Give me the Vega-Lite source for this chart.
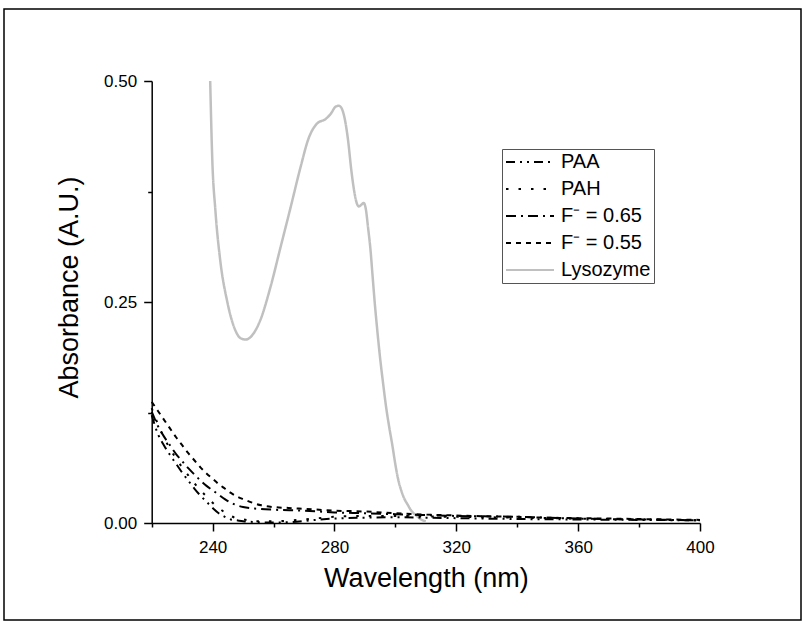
{
  "$schema": "https://vega.github.io/schema/vega-lite/v6.json",
  "width": 797,
  "height": 611,
  "autosize": {"type": "none"},
  "padding": {"left": 4, "top": 9, "right": 1, "bottom": 1},
  "background": "white",
  "config": {
    "view": {"stroke": "black", "strokeWidth": 1.5},
    "font": "Liberation Sans"
  },
  "datasets": {
    "lys": [
      {"wavelength": 239.2, "absorbance": 0.5},
      {"wavelength": 239.9, "absorbance": 0.41},
      {"wavelength": 240.9, "absorbance": 0.354},
      {"wavelength": 242.5, "absorbance": 0.297},
      {"wavelength": 244.7, "absorbance": 0.252},
      {"wavelength": 247.0, "absorbance": 0.222},
      {"wavelength": 249.2, "absorbance": 0.209},
      {"wavelength": 250.8, "absorbance": 0.2075},
      {"wavelength": 252.9, "absorbance": 0.212},
      {"wavelength": 255.6, "absorbance": 0.229},
      {"wavelength": 259.0, "absorbance": 0.267},
      {"wavelength": 262.3, "absorbance": 0.312},
      {"wavelength": 265.6, "absorbance": 0.357},
      {"wavelength": 268.9, "absorbance": 0.403},
      {"wavelength": 271.5, "absorbance": 0.435},
      {"wavelength": 274.3, "absorbance": 0.452},
      {"wavelength": 277.1, "absorbance": 0.457},
      {"wavelength": 278.8, "absorbance": 0.463},
      {"wavelength": 280.4, "absorbance": 0.471},
      {"wavelength": 281.5, "absorbance": 0.472},
      {"wavelength": 282.5, "absorbance": 0.468},
      {"wavelength": 283.5, "absorbance": 0.455},
      {"wavelength": 284.5, "absorbance": 0.432},
      {"wavelength": 285.5, "absorbance": 0.4},
      {"wavelength": 286.5, "absorbance": 0.375},
      {"wavelength": 287.3, "absorbance": 0.362},
      {"wavelength": 288.0, "absorbance": 0.358},
      {"wavelength": 288.8, "absorbance": 0.36},
      {"wavelength": 289.6, "absorbance": 0.362},
      {"wavelength": 290.3, "absorbance": 0.355},
      {"wavelength": 291.0, "absorbance": 0.335},
      {"wavelength": 291.8, "absorbance": 0.31},
      {"wavelength": 292.5, "absorbance": 0.28},
      {"wavelength": 293.2, "absorbance": 0.25},
      {"wavelength": 294.0, "absorbance": 0.22},
      {"wavelength": 295.0, "absorbance": 0.186},
      {"wavelength": 296.0, "absorbance": 0.157},
      {"wavelength": 297.0, "absorbance": 0.13},
      {"wavelength": 298.0, "absorbance": 0.108},
      {"wavelength": 299.0, "absorbance": 0.088},
      {"wavelength": 300.0, "absorbance": 0.066},
      {"wavelength": 301.0, "absorbance": 0.048},
      {"wavelength": 302.0, "absorbance": 0.036},
      {"wavelength": 303.0, "absorbance": 0.027},
      {"wavelength": 304.0, "absorbance": 0.021},
      {"wavelength": 305.0, "absorbance": 0.015},
      {"wavelength": 306.0, "absorbance": 0.011},
      {"wavelength": 307.0, "absorbance": 0.008},
      {"wavelength": 308.0, "absorbance": 0.005},
      {"wavelength": 309.0, "absorbance": 0.003},
      {"wavelength": 310.0, "absorbance": 0.002}
    ]
  },
  "data": {
    "values": [
      {"series": "F⁻ = 0.55", "wavelength": 220, "absorbance": 0.137},
      {"series": "F⁻ = 0.55", "wavelength": 222, "absorbance": 0.127},
      {"series": "F⁻ = 0.55", "wavelength": 224, "absorbance": 0.117},
      {"series": "F⁻ = 0.55", "wavelength": 226, "absorbance": 0.107},
      {"series": "F⁻ = 0.55", "wavelength": 228, "absorbance": 0.097},
      {"series": "F⁻ = 0.55", "wavelength": 230, "absorbance": 0.088},
      {"series": "F⁻ = 0.55", "wavelength": 232, "absorbance": 0.079},
      {"series": "F⁻ = 0.55", "wavelength": 234, "absorbance": 0.071},
      {"series": "F⁻ = 0.55", "wavelength": 236, "absorbance": 0.063},
      {"series": "F⁻ = 0.55", "wavelength": 238, "absorbance": 0.056},
      {"series": "F⁻ = 0.55", "wavelength": 240, "absorbance": 0.05},
      {"series": "F⁻ = 0.55", "wavelength": 242, "absorbance": 0.044},
      {"series": "F⁻ = 0.55", "wavelength": 244, "absorbance": 0.039},
      {"series": "F⁻ = 0.55", "wavelength": 246, "absorbance": 0.034},
      {"series": "F⁻ = 0.55", "wavelength": 248, "absorbance": 0.03},
      {"series": "F⁻ = 0.55", "wavelength": 250, "absorbance": 0.027},
      {"series": "F⁻ = 0.55", "wavelength": 253, "absorbance": 0.023},
      {"series": "F⁻ = 0.55", "wavelength": 256, "absorbance": 0.02},
      {"series": "F⁻ = 0.55", "wavelength": 260, "absorbance": 0.018},
      {"series": "F⁻ = 0.55", "wavelength": 265, "absorbance": 0.017},
      {"series": "F⁻ = 0.55", "wavelength": 270, "absorbance": 0.016},
      {"series": "F⁻ = 0.55", "wavelength": 275, "absorbance": 0.015},
      {"series": "F⁻ = 0.55", "wavelength": 280, "absorbance": 0.014},
      {"series": "F⁻ = 0.55", "wavelength": 290, "absorbance": 0.013},
      {"series": "F⁻ = 0.55", "wavelength": 300, "absorbance": 0.011},
      {"series": "F⁻ = 0.55", "wavelength": 310, "absorbance": 0.0095},
      {"series": "F⁻ = 0.55", "wavelength": 320, "absorbance": 0.0085},
      {"series": "F⁻ = 0.55", "wavelength": 330, "absorbance": 0.0075},
      {"series": "F⁻ = 0.55", "wavelength": 340, "absorbance": 0.007},
      {"series": "F⁻ = 0.55", "wavelength": 350, "absorbance": 0.006},
      {"series": "F⁻ = 0.55", "wavelength": 360, "absorbance": 0.0055},
      {"series": "F⁻ = 0.55", "wavelength": 370, "absorbance": 0.005},
      {"series": "F⁻ = 0.55", "wavelength": 380, "absorbance": 0.0045},
      {"series": "F⁻ = 0.55", "wavelength": 390, "absorbance": 0.004},
      {"series": "F⁻ = 0.55", "wavelength": 400, "absorbance": 0.0035},

      {"series": "F⁻ = 0.65", "wavelength": 220, "absorbance": 0.126},
      {"series": "F⁻ = 0.65", "wavelength": 222, "absorbance": 0.11},
      {"series": "F⁻ = 0.65", "wavelength": 224, "absorbance": 0.098},
      {"series": "F⁻ = 0.65", "wavelength": 226, "absorbance": 0.088},
      {"series": "F⁻ = 0.65", "wavelength": 228, "absorbance": 0.078},
      {"series": "F⁻ = 0.65", "wavelength": 230, "absorbance": 0.07},
      {"series": "F⁻ = 0.65", "wavelength": 232, "absorbance": 0.062},
      {"series": "F⁻ = 0.65", "wavelength": 234, "absorbance": 0.055},
      {"series": "F⁻ = 0.65", "wavelength": 236, "absorbance": 0.048},
      {"series": "F⁻ = 0.65", "wavelength": 238, "absorbance": 0.042},
      {"series": "F⁻ = 0.65", "wavelength": 240, "absorbance": 0.037},
      {"series": "F⁻ = 0.65", "wavelength": 242, "absorbance": 0.032},
      {"series": "F⁻ = 0.65", "wavelength": 244, "absorbance": 0.027},
      {"series": "F⁻ = 0.65", "wavelength": 246, "absorbance": 0.023},
      {"series": "F⁻ = 0.65", "wavelength": 248, "absorbance": 0.02},
      {"series": "F⁻ = 0.65", "wavelength": 250, "absorbance": 0.018},
      {"series": "F⁻ = 0.65", "wavelength": 255, "absorbance": 0.016},
      {"series": "F⁻ = 0.65", "wavelength": 260, "absorbance": 0.015},
      {"series": "F⁻ = 0.65", "wavelength": 270, "absorbance": 0.014},
      {"series": "F⁻ = 0.65", "wavelength": 280, "absorbance": 0.012},
      {"series": "F⁻ = 0.65", "wavelength": 290, "absorbance": 0.011},
      {"series": "F⁻ = 0.65", "wavelength": 300, "absorbance": 0.01},
      {"series": "F⁻ = 0.65", "wavelength": 320, "absorbance": 0.008},
      {"series": "F⁻ = 0.65", "wavelength": 340, "absorbance": 0.007},
      {"series": "F⁻ = 0.65", "wavelength": 360, "absorbance": 0.005},
      {"series": "F⁻ = 0.65", "wavelength": 380, "absorbance": 0.004},
      {"series": "F⁻ = 0.65", "wavelength": 400, "absorbance": 0.003},

      {"series": "PAH", "wavelength": 220, "absorbance": 0.13},
      {"series": "PAH", "wavelength": 222, "absorbance": 0.112},
      {"series": "PAH", "wavelength": 224, "absorbance": 0.097},
      {"series": "PAH", "wavelength": 226, "absorbance": 0.084},
      {"series": "PAH", "wavelength": 228, "absorbance": 0.073},
      {"series": "PAH", "wavelength": 230, "absorbance": 0.063},
      {"series": "PAH", "wavelength": 232, "absorbance": 0.054},
      {"series": "PAH", "wavelength": 234, "absorbance": 0.045},
      {"series": "PAH", "wavelength": 236, "absorbance": 0.037},
      {"series": "PAH", "wavelength": 238, "absorbance": 0.03},
      {"series": "PAH", "wavelength": 240, "absorbance": 0.023},
      {"series": "PAH", "wavelength": 242, "absorbance": 0.017},
      {"series": "PAH", "wavelength": 244, "absorbance": 0.012},
      {"series": "PAH", "wavelength": 246, "absorbance": 0.008},
      {"series": "PAH", "wavelength": 248, "absorbance": 0.005},
      {"series": "PAH", "wavelength": 250, "absorbance": 0.004},
      {"series": "PAH", "wavelength": 255, "absorbance": 0.002},
      {"series": "PAH", "wavelength": 260, "absorbance": 0.002},
      {"series": "PAH", "wavelength": 270, "absorbance": 0.004},
      {"series": "PAH", "wavelength": 280, "absorbance": 0.007},
      {"series": "PAH", "wavelength": 290, "absorbance": 0.008},
      {"series": "PAH", "wavelength": 300, "absorbance": 0.008},
      {"series": "PAH", "wavelength": 310, "absorbance": 0.0075},
      {"series": "PAH", "wavelength": 320, "absorbance": 0.007},
      {"series": "PAH", "wavelength": 340, "absorbance": 0.006},
      {"series": "PAH", "wavelength": 360, "absorbance": 0.005},
      {"series": "PAH", "wavelength": 380, "absorbance": 0.004},
      {"series": "PAH", "wavelength": 400, "absorbance": 0.003},

      {"series": "PAA", "wavelength": 220, "absorbance": 0.122},
      {"series": "PAA", "wavelength": 222, "absorbance": 0.101},
      {"series": "PAA", "wavelength": 224, "absorbance": 0.088},
      {"series": "PAA", "wavelength": 226, "absorbance": 0.077},
      {"series": "PAA", "wavelength": 228, "absorbance": 0.067},
      {"series": "PAA", "wavelength": 230, "absorbance": 0.057},
      {"series": "PAA", "wavelength": 232, "absorbance": 0.048},
      {"series": "PAA", "wavelength": 234, "absorbance": 0.039},
      {"series": "PAA", "wavelength": 236, "absorbance": 0.031},
      {"series": "PAA", "wavelength": 238, "absorbance": 0.024},
      {"series": "PAA", "wavelength": 240, "absorbance": 0.017},
      {"series": "PAA", "wavelength": 242, "absorbance": 0.011},
      {"series": "PAA", "wavelength": 244, "absorbance": 0.007},
      {"series": "PAA", "wavelength": 246, "absorbance": 0.004},
      {"series": "PAA", "wavelength": 248, "absorbance": 0.003},
      {"series": "PAA", "wavelength": 250, "absorbance": 0.002},
      {"series": "PAA", "wavelength": 255, "absorbance": 0.001},
      {"series": "PAA", "wavelength": 260, "absorbance": 0.0005},
      {"series": "PAA", "wavelength": 266, "absorbance": 0.001},
      {"series": "PAA", "wavelength": 272, "absorbance": 0.003},
      {"series": "PAA", "wavelength": 280, "absorbance": 0.005},
      {"series": "PAA", "wavelength": 290, "absorbance": 0.006},
      {"series": "PAA", "wavelength": 300, "absorbance": 0.0065},
      {"series": "PAA", "wavelength": 310, "absorbance": 0.006},
      {"series": "PAA", "wavelength": 320, "absorbance": 0.0055},
      {"series": "PAA", "wavelength": 340, "absorbance": 0.0045},
      {"series": "PAA", "wavelength": 360, "absorbance": 0.004},
      {"series": "PAA", "wavelength": 380, "absorbance": 0.0035},
      {"series": "PAA", "wavelength": 400, "absorbance": 0.003}
    ]
  },
  "layer": [
    {
      "data": {"name": "lys"},
      "transform": [{"calculate": "'Lysozyme'", "as": "series"}],
      "mark": {"type": "line", "interpolate": "monotone", "strokeWidth": 2.5},
      "encoding": {
        "x": {"field": "wavelength", "type": "quantitative"},
        "y": {"field": "absorbance", "type": "quantitative"},
        "color": {"field": "series", "type": "nominal"},
        "strokeDash": {"field": "series", "type": "nominal"}
      }
    },
    {
      "mark": {"type": "line", "interpolate": "monotone", "strokeWidth": 2},
      "encoding": {
        "x": {"field": "wavelength", "type": "quantitative"},
        "y": {"field": "absorbance", "type": "quantitative"},
        "color": {"field": "series", "type": "nominal"},
        "strokeDash": {"field": "series", "type": "nominal"}
      }
    }
  ],
  "encoding": {
    "x": {
      "field": "wavelength", "type": "quantitative",
      "scale": {"domain": [220, 400], "range": [147.7, 696], "nice": false, "zero": false},
      "axis": {
        "title": "Wavelength (nm)",
        "values": [220, 240, 260, 280, 300, 320, 340, 360, 380, 400],
        "labelExpr": "datum.value % 40 == 0 ? datum.label : ''",
        "tickSize": {"condition": {"test": "datum.value % 40 == 0", "value": 8}, "value": 4},
        "offset": -97,
        "grid": false,
        "domainColor": "black", "domainWidth": 1.5,
        "tickColor": "black", "tickWidth": 1.5,
        "labelFontSize": 17, "labelColor": "black", "labelPadding": 8,
        "labelFlush": false, "labelOverlap": false,
        "titleFontSize": 27, "titleFontWeight": "normal", "titleColor": "black", "titlePadding": 10
      }
    },
    "y": {
      "field": "absorbance", "type": "quantitative",
      "scale": {"domain": [0, 0.5], "range": [514, 72], "nice": false, "zero": false},
      "axis": {
        "title": "Absorbance (A.U.)",
        "values": [0, 0.125, 0.25, 0.375, 0.5],
        "format": ".2f",
        "labelExpr": "(datum.value * 4) % 1 == 0 ? datum.label : ''",
        "tickSize": {"condition": {"test": "(datum.value * 4) % 1 == 0", "value": 8}, "value": 4},
        "offset": -147.7,
        "grid": false,
        "domainColor": "black", "domainWidth": 1.5,
        "tickColor": "black", "tickWidth": 1.5,
        "labelFontSize": 17, "labelColor": "black", "labelPadding": 7,
        "labelFlush": false, "labelOverlap": false,
        "titleFontSize": 27, "titleFontWeight": "normal", "titleColor": "black", "titlePadding": 20,
        "titleY": 278
      }
    },
    "color": {
      "field": "series", "type": "nominal",
      "scale": {"domain": ["PAA", "PAH", "F⁻ = 0.65", "F⁻ = 0.55", "Lysozyme"], "range": ["#000000", "#000000", "#000000", "#000000", "#c0c0c0"]},
      "legend": {
        "title": null, "orient": "none", "legendX": 498, "legendY": 140,
        "strokeColor": "#555555", "padding": 3,
        "labelFontSize": 20, "labelColor": "black", "labelLimit": 300, "labelOffset": 6,
        "symbolType": "stroke", "symbolSize": 2304, "symbolStrokeWidth": 2, "rowPadding": 7, "clipHeight": 20
      }
    },
    "strokeDash": {
      "field": "series", "type": "nominal",
      "scale": {"domain": ["PAA", "PAH", "F⁻ = 0.65", "F⁻ = 0.55", "Lysozyme"], "range": [[9, 5, 2, 5, 2, 5], [2.5, 10], [10, 5, 2, 5], [5, 5], [1, 0]]},
      "legend": {
        "title": null, "orient": "none", "legendX": 498, "legendY": 140,
        "strokeColor": "#555555", "padding": 3,
        "labelFontSize": 20, "labelColor": "black", "labelLimit": 300, "labelOffset": 6,
        "symbolType": "stroke", "symbolSize": 2304, "symbolStrokeWidth": 2, "rowPadding": 7, "clipHeight": 20
      }
    }
  }
}
